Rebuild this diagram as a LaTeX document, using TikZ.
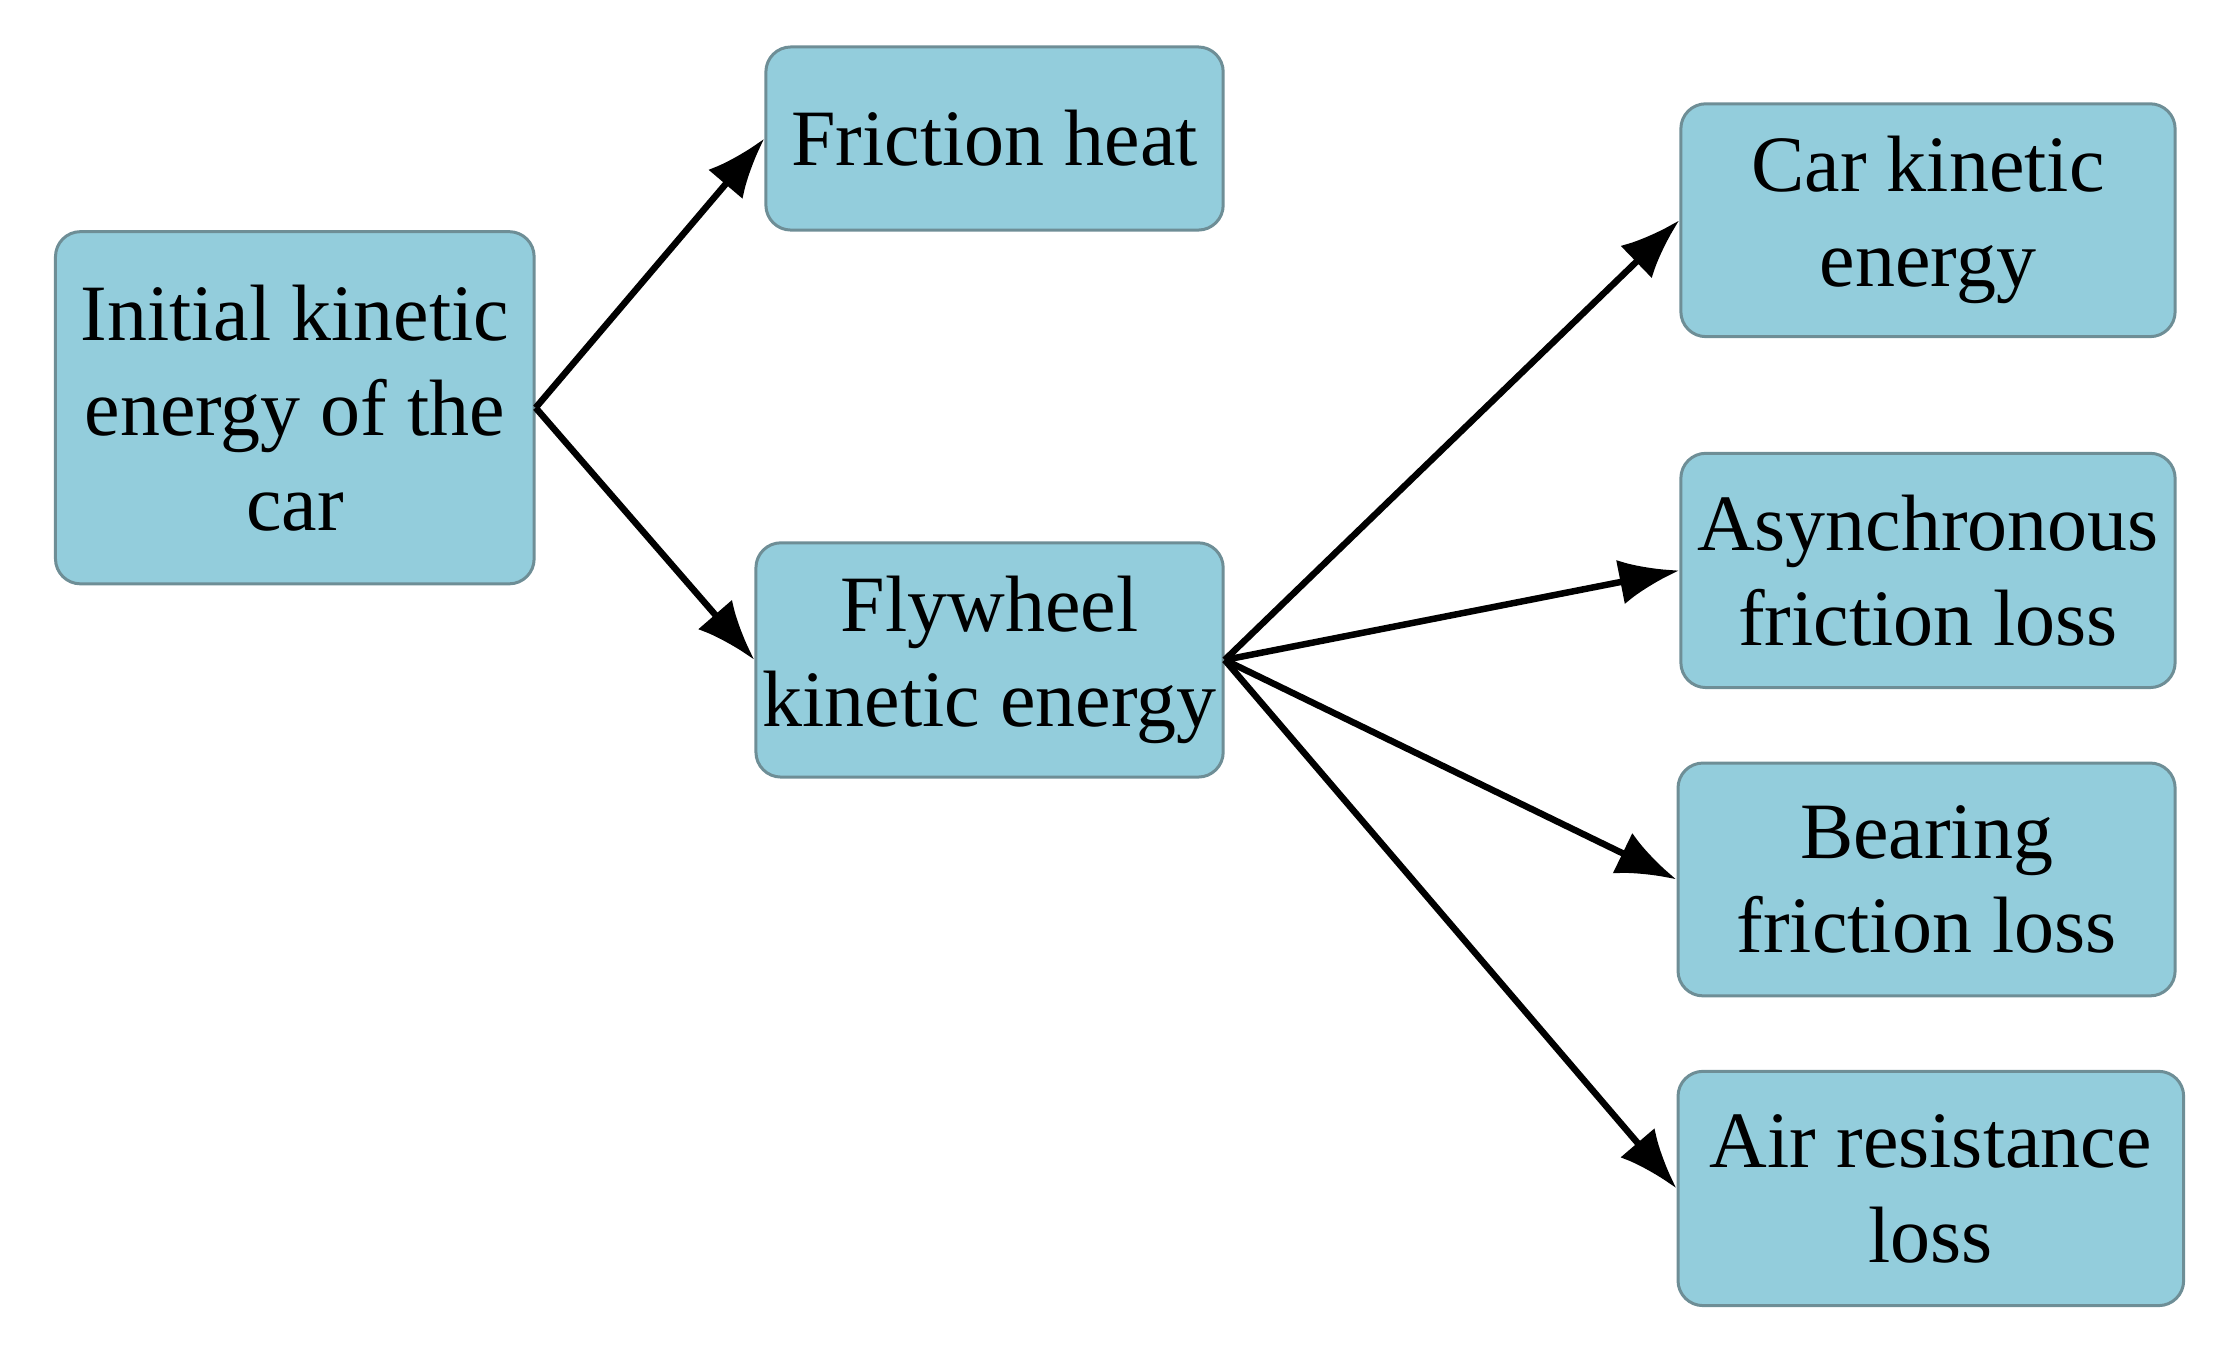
\documentclass[tikz,border=0pt]{standalone}
\usepackage{fontspec}
\setmainfont{Liberation Serif}
\usetikzlibrary{arrows.meta}
\definecolor{boxfill}{HTML}{93CDDC}
\definecolor{boxline}{HTML}{6E8E96}
\tikzset{
  box/.style={draw=boxline, line width=0.6pt, fill=boxfill, rounded corners=5pt, align=center, inner sep=0pt,
    font=\fontsize{16}{19}\selectfont},
  arr/.style={-{Latex[length=12pt,width=9pt]}, line width=1.3pt}
}
\begin{document}
\begin{tikzpicture}[x=0.01cm,y=-0.01cm]
\useasboundingbox (0,0) rectangle (1559,952);
\newcommand{\bx}[6]{\node[box, minimum width=#4*0.01cm-0.6pt, minimum height=#5*0.01cm-0.6pt] (#1) at (#2,#3) {#6};}
\bx{init}{207.5}{287}{339}{250}{Initial kinetic\\energy of the\\car}
\bx{heat}{700}{97.5}{324}{131}{Friction heat}
\bx{fly}{696.5}{464.5}{331}{167}{Flywheel\\kinetic energy}
\bx{car}{1357}{155}{350}{166}{Car kinetic\\energy}
\bx{async}{1357}{401.5}{350}{167}{Asynchronous\\friction loss}
\bx{bear}{1356}{619}{352}{166}{Bearing\\friction loss}
\bx{air}{1359}{836.5}{358}{167}{Air resistance\\loss}
\draw[arr] (init.east) -- (heat.west);
\draw[arr] (init.east) -- (fly.west);
\draw[arr] (fly.east) -- (car.west);
\draw[arr] (fly.east) -- (async.west);
\draw[arr] (fly.east) -- (bear.west);
\draw[arr] (fly.east) -- (air.west);
\end{tikzpicture}
\end{document}
